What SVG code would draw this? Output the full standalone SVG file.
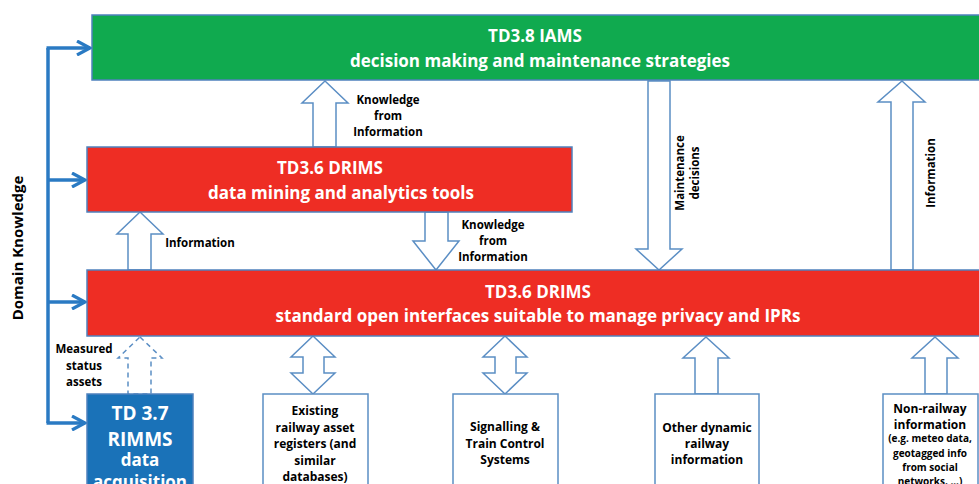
<svg xmlns="http://www.w3.org/2000/svg" width="979" height="484" viewBox="0 0 979 484">
  <style>
    .hdr { font-family: "Open Sans", "Liberation Sans", sans-serif; font-weight: bold; fill: #ffffff; text-anchor: middle; }
    .lbl { font-family: "Open Sans", "Liberation Sans", sans-serif; font-weight: bold; fill: #000000; text-anchor: middle; font-size: 11.5px; }
    .box { stroke: #4f81bd; stroke-width: 1.5; }
    .blk { fill: #ffffff; stroke: #5b8ec4; stroke-width: 1.5; stroke-linejoin: miter; }
    .dash { stroke-dasharray: 5 4; }
    .src { fill: #ffffff; stroke: #5b8ec4; stroke-width: 1.5; }
    .dk { fill: none; stroke: #2a7ac3; stroke-width: 3.5; }
  </style>
  <defs>
    <marker id="chev" viewBox="0 0 16 16" refX="14" refY="8" markerWidth="16" markerHeight="16" markerUnits="userSpaceOnUse" orient="auto">
      <path d="M1,1 L14,8 L1,15" fill="none" stroke="#2a7ac3" stroke-width="3.2"/>
    </marker>
  </defs>
  <rect width="979" height="484" fill="#ffffff"/>

  <!-- Domain knowledge feed -->
  <g id="domain-knowledge">
    <text class="lbl" style="font-size:15px" transform="translate(23,248) rotate(-90)">Domain Knowledge</text>
  </g>

  <g id="connectors">
    <path class="dk" d="M48,48 V423"/>
    <path class="dk" d="M46.5,48 H90" marker-end="url(#chev)"/>
    <path class="dk" d="M48,180 H85" marker-end="url(#chev)"/>
    <path class="dk" d="M48,302 H85" marker-end="url(#chev)"/>
    <path class="dk" d="M46.5,423 H85" marker-end="url(#chev)"/>

    <!-- knowledge up to IAMS -->
    <polygon class="blk" points="325,81 348,103 336,103 336,147 313,147 313,103 302,103"/>
    <text class="lbl" x="388" y="104">Knowledge</text>
    <text class="lbl" x="388" y="120">from</text>
    <text class="lbl" x="388" y="136">Information</text>

    <!-- knowledge down to interfaces -->
    <polygon class="blk" points="425,212 448,212 448,241 459,241 436,270 413,241 425,241"/>
    <text class="lbl" x="493" y="229">Knowledge</text>
    <text class="lbl" x="493" y="245">from</text>
    <text class="lbl" x="493" y="261">Information</text>

    <!-- information up to analytics -->
    <polygon class="blk" points="140,212 163,234 151,234 151,270 128,270 128,234 117,234"/>
    <text class="lbl" x="200" y="247">Information</text>

    <!-- maintenance decisions down -->
    <polygon class="blk" points="648,81 670,81 670,249 682,249 659,270 636,249 648,249"/>
    <text class="lbl" transform="translate(684,173) rotate(-90)">Maintenance</text>
    <text class="lbl" transform="translate(699,173) rotate(-90)">decisions</text>

    <!-- information up to IAMS -->
    <polygon class="blk" points="902,81 925,102 913,102 913,270 891,270 891,102 878,102"/>
    <text class="lbl" transform="translate(935,173) rotate(-90)">Information</text>

    <!-- measured status (dashed) -->
    <polygon class="blk dash" points="140,337 162,358 151,358 151,394 128,394 128,358 118,358"/>
    <text class="lbl" x="84" y="353">Measured</text>
    <text class="lbl" x="84" y="370">status</text>
    <text class="lbl" x="84" y="386">assets</text>

    <!-- double arrows -->
    <polygon class="blk" points="313,336 335,357 324,357 324,373 335,373 313,394 291,373 303,373 303,357 291,357"/>
    <polygon class="blk" points="505,336 527,357 516,357 516,373 527,373 505,394 483,373 495,373 495,357 483,357"/>

    <!-- single up arrows -->
    <polygon class="blk" points="706,337 729,358 718,358 718,394 695,394 695,358 683,358"/>
    <polygon class="blk" points="935,337 958,358 947,358 947,394 925,394 925,358 912,358"/>
  </g>

  <g id="iams">
    <rect class="box" x="92" y="15" width="895" height="65" fill="#10aa4f"/>
    <text class="hdr" x="535" y="42" style="font-size:17px">TD3.8 IAMS</text>
    <text class="hdr" x="540" y="67" style="font-size:17px">decision making and maintenance strategies</text>
  </g>

  <g id="drims-analytics">
    <rect class="box" x="87" y="147" width="485" height="65" fill="#ee2d24"/>
    <text class="hdr" x="330" y="174" style="font-size:17px">TD3.6 DRIMS</text>
    <text class="hdr" x="341" y="199" style="font-size:17px">data mining and analytics tools</text>
  </g>

  <g id="drims-interfaces">
    <rect class="box" x="87" y="270" width="900" height="66" fill="#ee2d24"/>
    <text class="hdr" x="538" y="298" style="font-size:17px">TD3.6 DRIMS</text>
    <text class="hdr" x="538" y="322" style="font-size:17px">standard open interfaces suitable to manage privacy and IPRs</text>
  </g>

  <g id="rimms">
    <rect class="box" x="87" y="394" width="106" height="100" fill="#1a72b8"/>
    <text class="hdr" x="140" y="420" style="font-size:19px">TD 3.7</text>
    <text class="hdr" x="140" y="446" style="font-size:19px">RIMMS</text>
    <text class="hdr" x="140" y="466" style="font-size:17px">data</text>
    <text class="hdr" x="140" y="488" style="font-size:17px">acquisition</text>
  </g>

  <g id="asset-registers">
    <rect class="src" x="263" y="394" width="105" height="100"/>
    <text class="lbl" x="315" y="415" style="font-size:12px">Existing</text>
    <text class="lbl" x="315" y="432" style="font-size:12px">railway asset</text>
    <text class="lbl" x="315" y="448" style="font-size:12px">registers (and</text>
    <text class="lbl" x="315" y="465" style="font-size:12px">similar</text>
    <text class="lbl" x="315" y="481" style="font-size:12px">databases)</text>
  </g>

  <g id="signalling">
    <rect class="src" x="453" y="394" width="105" height="100"/>
    <text class="lbl" x="505" y="431" style="font-size:12px">Signalling &amp;</text>
    <text class="lbl" x="505" y="448" style="font-size:12px">Train Control</text>
    <text class="lbl" x="505" y="464" style="font-size:12px">Systems</text>
  </g>

  <g id="dynamic-info">
    <rect class="src" x="655" y="394" width="104" height="100"/>
    <text class="lbl" x="707" y="432" style="font-size:12px">Other dynamic</text>
    <text class="lbl" x="707" y="448" style="font-size:12px">railway</text>
    <text class="lbl" x="707" y="464" style="font-size:12px">information</text>
  </g>

  <g id="non-railway">
    <rect class="src" x="883" y="394" width="95" height="100"/>
    <text class="lbl" x="930" y="413" style="font-size:12px">Non-railway</text>
    <text class="lbl" x="930" y="429" style="font-size:12px">information</text>
    <text class="lbl" x="930" y="442" style="font-size:10px">(e.g. meteo data,</text>
    <text class="lbl" x="930" y="457" style="font-size:10px">geotagged info</text>
    <text class="lbl" x="930" y="471" style="font-size:10px">from social</text>
    <text class="lbl" x="930" y="485" style="font-size:10px">networks, ...)</text>
  </g>
</svg>
